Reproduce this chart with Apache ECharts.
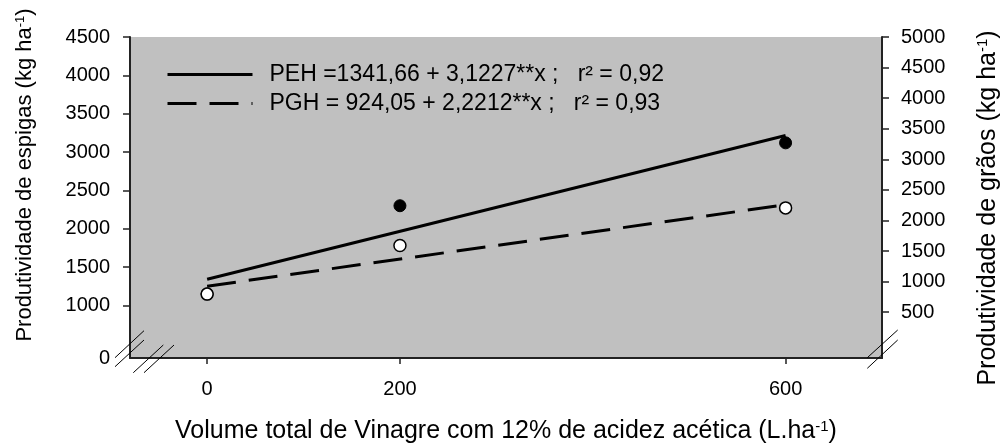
<!DOCTYPE html>
<html><head><meta charset="utf-8">
<script src="https://cdn.jsdelivr.net/npm/echarts@6/dist/echarts.min.js"></script>
<style>html,body{margin:0;padding:0;background:#fff}#c{width:1004px;height:446px}</style>
</head><body><div id="c"></div>
<script>
// ---- data ----
const volumes = [0, 200, 600];
const pehObserved = [1150, 2300, 3120];   // Produtividade de espigas (left axis)
const pghObserved = [795, 1590, 2205];    // Produtividade de grãos (right axis)
const fitX = [0, 600];
const pehFit = [1341.66, 3215.28];
const pghFit = [924.05, 2256.77];
const xTicks = [0, 200, 600];
const leftTicks = [1000, 1500, 2000, 2500, 3000, 3500, 4000, 4500];
const rightTicks = [500, 1000, 1500, 2000, 2500, 3000, 3500, 4000, 4500, 5000];
const leftBreakLabel = '0';
const legendNames = ['PEH =1341,66 + 3,1227**x ;   r² = 0,92', 'PGH = 924,05 + 2,2212**x ;   r² = 0,93'];
const xTitle = 'Volume total de Vinagre com 12% de acidez acética (L.ha{s|-1})';
const leftTitle = 'Produtividade de espigas (kg ha{s|-1})';
const rightTitle = 'Produtividade de grãos (kg ha{s|-1})';

// ---- layout ----
const FONT = '"Liberation Sans", Arial, Helvetica, sans-serif';
const GL = 130, GT = 37, GR = 882, GB = 358, W = 1004, H = 446;
const X_MIN = -80, X_MAX = 700;
const L_MIN = 315, L_MAX = 4500;
const R_MIN = -250, R_MAX = 5000;
const TICK_FS = 20;

const chart = echarts.init(document.getElementById('c'), null, {renderer: 'canvas'});

const pair = (a, b) => a.map((v, i) => [v, b[i]]);

function breakMarks(lines) {
  return lines.map(l => ({
    type: 'line', z: 100, silent: true,
    shape: {x1: l[0], y1: l[1], x2: l[2], y2: l[3]},
    style: {stroke: '#000', lineWidth: 1}
  }));
}

const option = {
  animation: false,
  backgroundColor: '#fff',
  grid: {left: GL, top: GT, right: W - GR, bottom: H - GB, show: true,
         backgroundColor: '#c0c0c0', borderWidth: 0, containLabel: false, outerBoundsMode: 'none'},
  xAxis: {
    type: 'value', min: X_MIN, max: X_MAX,
    axisLine: {show: true, onZero: false, lineStyle: {color: '#222', width: 2}},
    axisTick: {show: true, length: 6, lineStyle: {color: '#222', width: 1.5}, customValues: xTicks},
    axisLabel: {customValues: xTicks, margin: 21, fontSize: TICK_FS, color: '#000', fontFamily: FONT,
      formatter: v => String(v)},
    splitLine: {show: false},
    name: xTitle, nameLocation: 'middle', nameGap: 61,
    nameTextStyle: {fontSize: 25, color: '#000', fontFamily: FONT,
      rich: {s: {fontSize: 15, verticalAlign: 'top', color: '#000', fontFamily: FONT}}}
  },
  yAxis: [{
    type: 'value', min: L_MIN, max: L_MAX, position: 'left',
    axisLine: {show: true, onZero: false, lineStyle: {color: '#222', width: 2}},
    axisTick: {show: true, length: 7, lineStyle: {color: '#222', width: 1.5}, customValues: leftTicks},
    axisLabel: {customValues: [L_MIN].concat(leftTicks), margin: 20, fontSize: TICK_FS, color: '#000', fontFamily: FONT,
      formatter: v => (v < leftTicks[0] ? leftBreakLabel : String(v))},
    splitLine: {show: false}
  }, {
    type: 'value', min: R_MIN, max: R_MAX, position: 'right',
    axisLine: {show: true, onZero: false, lineStyle: {color: '#222', width: 2}},
    axisTick: {show: true, length: 7, lineStyle: {color: '#222', width: 1.5}, customValues: rightTicks},
    axisLabel: {customValues: rightTicks, margin: 19, fontSize: TICK_FS, color: '#000', fontFamily: FONT,
      formatter: v => String(v)},
    splitLine: {show: false}
  }],
  legend: {
    data: legendNames, orient: 'vertical', left: 161, top: 58,
    itemWidth: 85, itemHeight: 14, itemGap: 6, selectedMode: false,
    textStyle: {fontSize: 23, color: '#000', fontFamily: FONT, padding: [0, 0, 0, 12]},
    lineStyle: {width: 3},
    itemStyle: {color: 'rgba(0,0,0,0)', borderColor: 'rgba(0,0,0,0)', borderWidth: 0, opacity: 0}
  },
  series: [{
    name: legendNames[0], type: 'line', yAxisIndex: 0, data: pair(fitX, pehFit),
    symbol: 'none', lineStyle: {color: '#000', width: 3}, itemStyle: {color: '#000'}, z: 2, silent: true
  }, {
    name: legendNames[1], type: 'line', yAxisIndex: 1, data: pair(fitX, pghFit),
    symbol: 'none', lineStyle: {color: '#000', width: 3, type: [29, 13]}, itemStyle: {color: '#000'}, z: 2, silent: true
  }, {
    name: 'PEH obs', type: 'scatter', yAxisIndex: 0, data: pair(volumes, pehObserved),
    symbol: 'circle', symbolSize: 12, itemStyle: {color: '#000', borderColor: '#000', borderWidth: 1, opacity: 1}, z: 3, silent: true
  }, {
    name: 'PGH obs', type: 'scatter', yAxisIndex: 1, data: pair(volumes, pghObserved),
    symbol: 'circle', symbolSize: 12, itemStyle: {color: '#fff', borderColor: '#000', borderWidth: 1.5, opacity: 1}, z: 4, silent: true
  }],
  graphic: [
    {type: 'text', x: 25, y: 175, rotation: Math.PI / 2, silent: true,
     style: {text: leftTitle, fontSize: 22, fontFamily: FONT, fill: '#000', align: 'center', verticalAlign: 'middle',
       rich: {s: {fontSize: 13, verticalAlign: 'top', fill: '#000', fontFamily: FONT}}}},
    {type: 'text', x: 988, y: 208, rotation: Math.PI / 2, silent: true,
     style: {text: rightTitle, fontSize: 25, fontFamily: FONT, fill: '#000', align: 'center', verticalAlign: 'middle',
       rich: {s: {fontSize: 15, verticalAlign: 'top', fill: '#000', fontFamily: FONT}}}}
  ].concat(breakMarks([
    [GL - 15, GB - 0.3, GL + 14, GB - 27.3],
    [GL - 15, GB + 8.7, GL + 14, GB - 18],
    [GL + 3.3, GB + 14.7, GL + 33.3, GB - 13],
    [GL + 14, GB + 14.7, GL + 44, GB - 13],
    [GR - 14.7, GB - 0.3, GR + 15.7, GB - 28],
    [GR - 14.7, GB + 10.3, GR + 15.7, GB - 18]
  ]))
};
chart.setOption(option);
</script></body></html>
